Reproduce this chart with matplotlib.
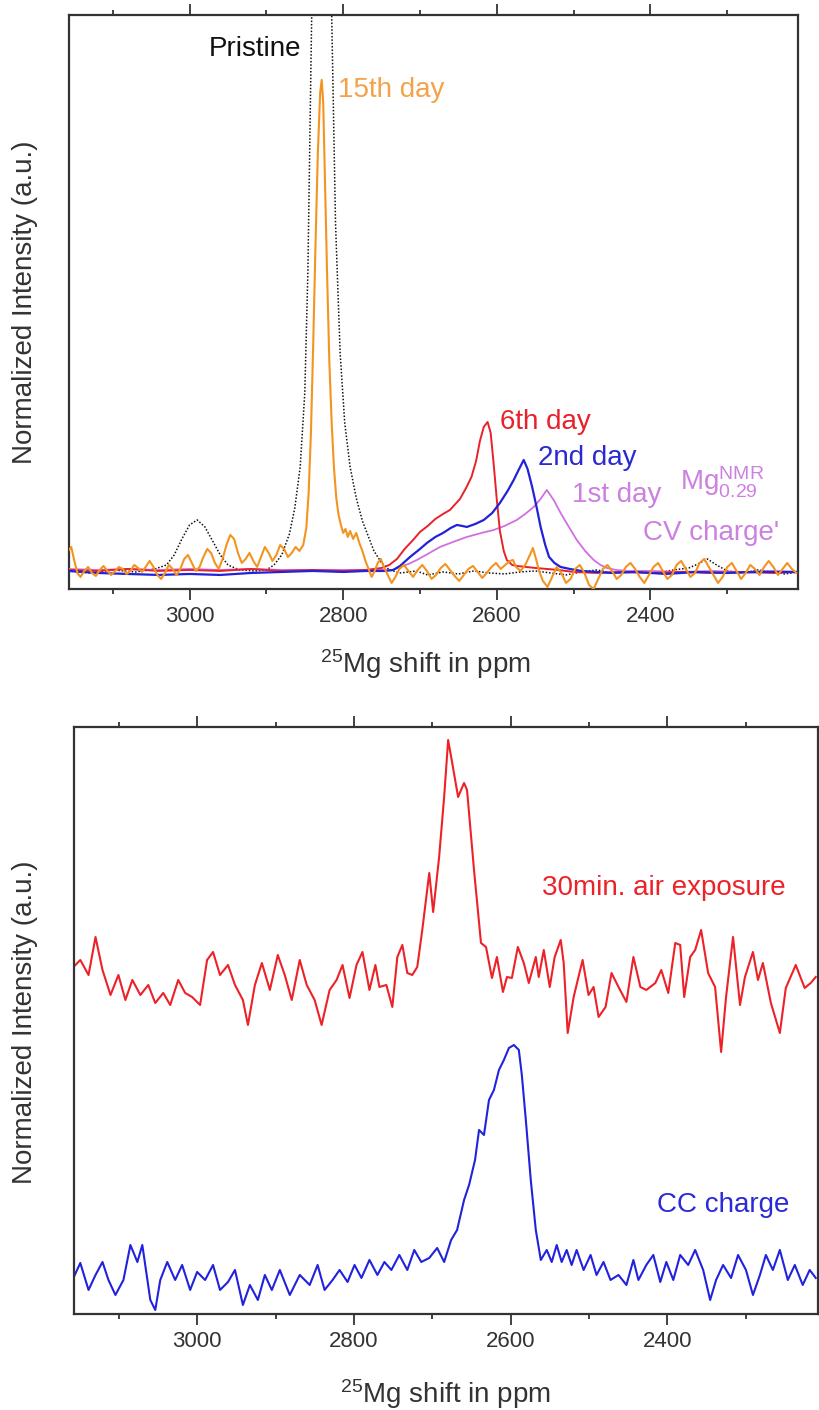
import numpy as np
import matplotlib
matplotlib.use("Agg")
import matplotlib.pyplot as plt
from matplotlib.ticker import MultipleLocator

plt.rcParams['font.family'] = ['Liberation Sans', 'DejaVu Sans']
plt.rcParams['mathtext.fontset'] = 'custom'
plt.rcParams['mathtext.rm'] = 'Liberation Sans'
plt.rcParams['mathtext.it'] = 'Liberation Sans:italic'

# ---------------- top panel data (ppm, a.u.) ----------------
pristine_ppm = [3158, 3130, 3100, 3070, 3045, 3030, 3020, 3010, 3000, 2990, 2980, 2970, 2960,
                2950, 2935, 2915, 2900, 2890, 2880, 2870, 2863, 2856, 2850, 2846, 2841, 2836,
                2828, 2820, 2815, 2810, 2804, 2798, 2791, 2783, 2775, 2769, 2760, 2750, 2740,
                2725, 2705, 2690, 2670, 2650, 2630, 2610, 2590, 2570, 2550, 2530, 2510, 2490,
                2470, 2450, 2430, 2410, 2390, 2370, 2350, 2338, 2326, 2314, 2300, 2280, 2260,
                2240, 2225, 2208]
pristine_int = [2, 0, 3, 1, 4, 8, 18, 34, 48, 53, 46, 32, 18,
                8, 3, 2, 3, 8, 18, 39, 65, 106, 180, 300, 558, 850,
                1100, 850, 558, 350, 220, 150, 106, 75, 52, 40, 22, 10, 3,
                0, 2, -2, 1, -1, 2, 0, -1, 1, 2, 0, -2, 1,
                3, 0, 1, 2, 0, 3, 5, 9, 14, 8, 2, 0, 3,
                1, -1, 1]

day15_ppm = [3158, 3154, 3150, 3146, 3142, 3137, 3132, 3127, 3122, 3117, 3112, 3107, 3102,
             3097, 3092, 3087, 3082, 3077, 3072, 3067, 3062, 3057, 3052, 3047, 3042, 3037,
             3032, 3027, 3022, 3017, 3012, 3007, 3002, 2997, 2992, 2987, 2982, 2977, 2972,
             2967, 2962, 2957, 2952, 2947, 2942, 2937, 2932, 2927, 2922, 2917, 2912, 2907,
             2902, 2897, 2892, 2887, 2882, 2877, 2872, 2867, 2862, 2857, 2852, 2848, 2845,
             2842, 2839, 2836, 2833, 2830, 2828, 2826, 2824, 2821, 2818, 2815, 2812, 2809,
             2806, 2803, 2800, 2797, 2794, 2791, 2787, 2783, 2779, 2775, 2771, 2767, 2763,
             2759, 2755, 2751, 2747, 2742, 2737, 2732, 2727, 2721, 2715, 2709, 2703, 2697,
             2691, 2685, 2679, 2673, 2667, 2661, 2655, 2649, 2643, 2637, 2631, 2625, 2619,
             2613, 2607, 2601, 2595, 2589, 2583, 2579, 2575, 2569, 2563, 2557, 2553, 2549,
             2545, 2540, 2534, 2528, 2522, 2516, 2510, 2504, 2498, 2492, 2486, 2480, 2474,
             2468, 2462, 2456, 2450, 2444, 2438, 2432, 2426, 2420, 2414, 2408, 2402, 2396,
             2390, 2384, 2378, 2372, 2366, 2360, 2354, 2348, 2342, 2336, 2330, 2324, 2318,
             2312, 2306, 2300, 2294, 2288, 2282, 2276, 2270, 2264, 2258, 2252, 2246, 2240,
             2234, 2228, 2222, 2216, 2210]
day15_int = [22, 26, 12, 0, -4, 2, 6, 0, -3, 3, 7, 2, -2,
             2, 6, 4, -1, 2, 8, 5, 1, 6, 12, 6, -2, -6,
             0, 8, 4, -2, 4, 14, 18, 10, 2, 6, 16, 24, 20,
             10, 4, 14, 28, 38, 34, 20, 10, 14, 20, 12, 6, 16,
             26, 20, 12, 18, 28, 24, 16, 20, 26, 22, 28, 45, 80,
             140, 230, 330, 420, 480, 493, 470, 400, 300, 210, 150, 105, 75,
             58, 48, 40, 44, 36, 42, 34, 40, 30, 22, 12, 4, -4,
             2, 10, 14, 6, -2, -10, -4, 4, 8, 2, -4, 3, 8,
             2, -6, -2, 5, 9, 3, -3, -8, -2, 4, 7, 1, -5,
             0, 6, 10, 4, 8, 12, 13, 6, 2, 8, 18, 25, 14,
             2, -8, -14, -4, 6, 0, -10, -6, 4, 8, 0, -12, -16,
             -6, 4, 8, 2, -6, -2, 6, 10, 4, -4, -10, -2, 6,
             10, 2, -6, -2, 8, 12, 4, -4, 0, 10, 14, 6, -2,
             -10, -4, 6, 10, 2, -6, 0, 8, 4, -2, 6, 12, 6,
             -2, 4, 10, 4, 0]

day6_ppm = [3158, 3120, 3080, 3040, 3000, 2960, 2920, 2880, 2840, 2800, 2770, 2750, 2740,
            2730, 2720, 2709, 2700, 2690, 2680, 2670, 2661, 2648, 2640, 2633, 2627, 2622,
            2617, 2612, 2608, 2604, 2600, 2596, 2591, 2587, 2580, 2574, 2562, 2550, 2535,
            2520, 2500, 2470, 2440, 2400, 2360, 2320, 2280, 2240, 2208]
day6_int = [3, 2, 4, 2, 3, 2, 4, 2, 3, 2, 3, 5, 8,
            14, 24, 33, 41, 47, 54, 59, 63, 74, 85, 96, 112, 132,
            146, 151, 140, 108, 73, 42, 22, 13, 8, 7, 6, 5, 4,
            3, 1, 0, 1, 0, 1, 0, 1, 0, 1]

day2_ppm = [3158, 3120, 3080, 3040, 3000, 2960, 2920, 2880, 2840, 2800, 2770, 2745, 2735,
            2726, 2713, 2700, 2691, 2680, 2670, 2660, 2652, 2645, 2639, 2628, 2617, 2606,
            2596, 2586, 2578, 2571, 2565, 2560, 2554, 2548, 2543, 2537, 2532, 2525, 2517,
            2505, 2490, 2470, 2450, 2420, 2380, 2340, 2300, 2260, 2208]
day2_int = [2, 0, -1, -2, -1, -2, 0, 1, 2, 1, 2, 2, 3,
            7, 16, 24, 30, 36, 40, 45, 48, 47, 46, 49, 53, 60,
            70, 82, 93, 104, 113, 104, 86, 65, 46, 28, 16, 10, 6,
            4, 2, 1, 0, 1, -1, 1, 0, 1, 1]

day1_ppm = [3158, 3120, 3080, 3040, 3000, 2960, 2920, 2880, 2840, 2800, 2770, 2745, 2735,
            2726, 2715, 2704, 2690, 2674, 2657, 2639, 2620, 2604, 2590, 2574, 2563, 2552,
            2543, 2535, 2526, 2517, 2507, 2496, 2485, 2474, 2465, 2457, 2445, 2430, 2400,
            2360, 2320, 2280, 2240, 2208]
day1_int = [4, 3, 4, 3, 4, 3, 4, 3, 3, 3, 3, 3, 3,
            6, 9, 13, 19, 26, 31, 36, 40, 43, 47, 53, 59, 66,
            74, 83, 73, 60, 47, 33, 22, 13, 8, 5, 3, 2, 2,
            1, 2, 1, 2, 1]

# ---------------- bottom panel data (ppm, a.u.) ----------------
air_ppm = [3159, 3149, 3138.5, 3129.6, 3120.7, 3110.5, 3100.4, 3091.5, 3082.6, 3072.4, 3062.3,
           3053.4, 3043.2, 3034.3, 3024.1, 3015.2, 3006.4, 2996.2, 2987.3, 2979.7, 2970.8,
           2960.6, 2951.7, 2941.6, 2935.2, 2926.3, 2917.4, 2907.2, 2897.1, 2888.2, 2879.3,
           2869.1, 2860.2, 2850.1, 2841.2, 2831.0, 2822.1, 2814.5, 2805.6, 2796.7, 2789.1,
           2780.2, 2772.6, 2767.5, 2758.6, 2751.0, 2744.6, 2738.2, 2731.9, 2725.6, 2719.2,
           2712.8, 2703.9, 2698.9, 2691.3, 2684.9, 2679.8, 2673.5, 2667.1, 2659.5, 2655.7,
           2646.8, 2637.9, 2631.5, 2623.9, 2617.6, 2609.9, 2604.8, 2598.5, 2590.9, 2583.3,
           2576.9, 2568.0, 2564.2, 2557.8, 2550.2, 2543.9, 2536.2, 2532.4, 2527.3, 2519.7,
           2508.3, 2500.7, 2494.3, 2487.9, 2479.0, 2471.4, 2462.5, 2452.4, 2443.5, 2434.6,
           2427.0, 2415.5, 2407.9, 2399.0, 2390.1, 2383.8, 2378.7, 2371.1, 2364.7, 2357.1,
           2348.2, 2339.3, 2331.6, 2325.3, 2316.4, 2307.5, 2301.2, 2291.0, 2284.6, 2278.3,
           2268.1, 2256.7, 2249.1, 2236.4, 2225.0, 2217.3, 2210.9]
air_int = [346, 354, 339, 377, 344, 319, 339, 314, 334, 319, 329,
           311, 321, 309, 334, 321, 317, 309, 354, 362, 339,
           349, 329, 314, 289, 329, 351, 324, 359, 339, 314,
           354, 329, 314, 289, 324, 334, 349, 316, 349, 362,
           324, 349, 327, 329, 307, 357, 369, 341, 339, 347,
           384, 441, 402, 457, 517, 574, 546, 517, 531, 524,
           444, 371, 367, 336, 357, 322, 337, 336, 367, 351,
           331, 357, 337, 364, 327, 357, 374, 351, 281, 317,
           354, 319, 327, 297, 307, 341, 327, 312, 357, 327,
           324, 331, 344, 321, 371, 369, 317, 357, 364, 384,
           341, 327, 262, 317, 377, 309, 337, 362, 334, 351,
           311, 281, 326, 349, 326, 331, 337]

cc_ppm = [3159, 3149, 3138.5, 3129.6, 3120.7, 3113.1, 3104.2, 3094.0, 3085.1, 3076.2, 3069.9,
          3059.7, 3053.4, 3047.0, 3038.1, 3028.0, 3019.1, 3008.9, 3000, 2989.8, 2979.7,
          2970.8, 2960.6, 2951.7, 2941.6, 2932.7, 2922.5, 2913.6, 2904.7, 2894.5, 2881.8,
          2869.1, 2856.4, 2846.3, 2837.4, 2827.2, 2818.3, 2808.1, 2799.2, 2790.4, 2780.2,
          2770.0, 2761.1, 2752.2, 2742.1, 2731.9, 2723.0, 2714.1, 2703.9, 2693.8, 2684.9,
          2676.0, 2668.4, 2659.5, 2653.1, 2645.5, 2640.4, 2634.1, 2627.7, 2621.4, 2615.0,
          2608.7, 2602.3, 2595.9, 2589.6, 2585.8, 2580.7, 2574.4, 2568.0, 2561.6, 2554.0,
          2547.7, 2541.3, 2535.0, 2528.6, 2522.3, 2515.9, 2507.0, 2498.1, 2490.5, 2481.6,
          2472.7, 2462.5, 2452.4, 2443.5, 2437.1, 2427.0, 2418.1, 2409.2, 2401.5, 2392.6,
          2383.8, 2373.6, 2364.7, 2354.5, 2345.6, 2338.0, 2329.1, 2318.9, 2310.0, 2299.9,
          2291.0, 2282.1, 2274.5, 2265.6, 2256.7, 2246.5, 2237.6, 2227.5, 2218.6, 2210.9]
cc_int = [34, 51, 24, 39, 52, 34, 19, 34, 69, 52, 69,
          14, 4, 34, 52, 34, 49, 24, 42, 34, 49,
          24, 32, 44, 9, 29, 14, 39, 24, 44, 19,
          39, 29, 49, 24, 34, 44, 32, 49, 36, 54,
          39, 52, 44, 59, 44, 64, 52, 56, 66, 52,
          74, 84, 114, 129, 154, 184, 179, 214, 224, 244,
          254, 266, 269, 264, 239, 194, 134, 84, 54, 64,
          52, 69, 52, 64, 49, 64, 44, 59, 39, 52,
          34, 39, 29, 54, 34, 49, 59, 32, 52, 34,
          59, 49, 64, 44, 14, 34, 49, 36, 59, 44,
          19, 39, 59, 44, 64, 34, 49, 29, 44, 36]

XLIM = (3157, 2208)
INK = '#333333'

fig = plt.figure(figsize=(8.19, 14.10), dpi=100)
ax1 = fig.add_axes([0.0842, 0.5823, 0.8901, 0.4071])
ax2 = fig.add_axes([0.0904, 0.0681, 0.9084, 0.4163])

# top panel
ax1.plot(pristine_ppm, pristine_int, color='#111111', ls=(0, (1, 1.2)), lw=1.1, zorder=2)
ax1.plot(day1_ppm, day1_int, color='#d070e0', lw=1.3, zorder=3)
ax1.plot(day2_ppm, day2_int, color='#2222d8', lw=1.6, zorder=4)
ax1.plot(day6_ppm, day6_int, color='#e8222a', lw=1.4, zorder=3)
ax1.plot(day15_ppm, day15_int, color='#f39420', lw=1.5, zorder=5, solid_joinstyle='round')
ax1.set_ylim(-16, 558)

fs = 20
ax1.text(2854, 524, 'Pristine', color='#111111', fontsize=fs, ha='right', va='center')
ax1.text(2807, 483, '15th day', color='#f4a24a', fontsize=fs, ha='left', va='center')
ax1.text(2596, 151, '6th day', color='#e8222a', fontsize=fs, ha='left', va='center')
ax1.text(2546, 115, '2nd day', color='#2a2ad4', fontsize=fs, ha='left', va='center')
ax1.text(2502, 78, '1st day', color='#cc80e0', fontsize=fs, ha='left', va='center')
ax1.text(2361, 91, r'Mg$^{\mathrm{NMR}}_{0.29}$', color='#cc80e0', fontsize=fs,
         ha='left', va='center')
ax1.text(2410, 40, "CV charge'", color='#cc80e0', fontsize=fs, ha='left', va='center')

# bottom panel
ax2.plot(air_ppm, air_int, color='#ec2228', lw=1.5, solid_joinstyle='round')
ax2.plot(cc_ppm, cc_int, color='#2222dd', lw=1.5, solid_joinstyle='round')
ax2.set_ylim(0, 587)
ax2.text(2560, 426, '30min. air exposure', color='#ec2228', fontsize=fs, ha='left', va='center')
ax2.text(2414, 109, 'CC charge', color='#2a2ad8', fontsize=fs, ha='left', va='center')

for ax in (ax1, ax2):
    ax.set_xlim(*XLIM)
    ax.xaxis.set_major_locator(MultipleLocator(200))
    ax.xaxis.set_minor_locator(MultipleLocator(100))
    ax.tick_params(axis='x', which='both', direction='out', top=True, bottom=True,
                   labeltop=False, colors=INK, labelsize=16, pad=4)
    ax.tick_params(axis='x', which='major', length=8, width=1.3)
    ax.tick_params(axis='x', which='minor', length=3.5, width=1.3)
    ax.tick_params(axis='y', left=False, labelleft=False)
    for sp in ax.spines.values():
        sp.set_color(INK)
        sp.set_linewidth(1.6)

fig.text(25 / 819, 1 - 302 / 1410, 'Normalized Intensity (a.u.)', rotation=90,
         fontsize=fs, ha='center', va='center', color=INK)
fig.text(25 / 819, 1 - 1022 / 1410, 'Normalized Intensity (a.u.)', rotation=90,
         fontsize=fs, ha='center', va='center', color=INK)
fig.text(425 / 819, 1 - 664 / 1410, r'$^{25}$Mg shift in ppm', fontsize=fs,
         ha='center', va='center', color=INK)
fig.text(445 / 819, 1 - 1394 / 1410, r'$^{25}$Mg shift in ppm', fontsize=fs,
         ha='center', va='center', color=INK)

fig.savefig('out.png', dpi=100)
